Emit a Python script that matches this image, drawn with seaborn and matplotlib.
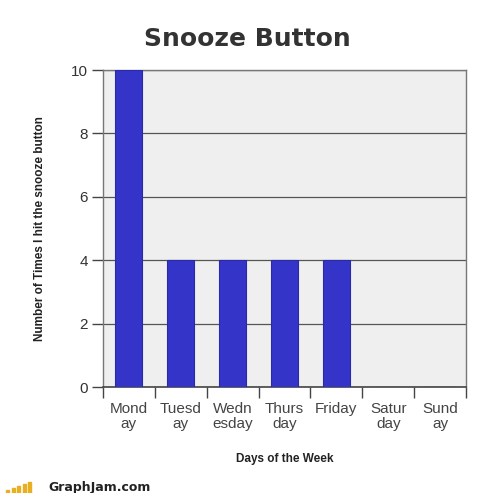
import matplotlib
matplotlib.use("Agg")
import pandas as pd
import seaborn as sns
import matplotlib.pyplot as plt
from matplotlib.patches import Rectangle

# Data
days = ["Mond\nay", "Tuesd\nay", "Wedn\nesday", "Thurs\nday", "Friday", "Satur\nday", "Sund\nay"]
snoozes = [10, 4, 4, 4, 4, 0, 0]

df = pd.DataFrame({"day": days, "snoozes": snoozes})

sns.set_theme(style="white")
plt.rcParams["font.family"] = ["Liberation Sans", "DejaVu Sans"]

fig = plt.figure(figsize=(5, 4.93), dpi=100)
ax = fig.add_axes([0.206, 0.215, 0.726, 0.643])
ax.set_facecolor("#efefef")

sns.barplot(data=df, x="day", y="snoozes", color="#3434c8", saturation=1,
            width=0.52, edgecolor="#2a2aa8", linewidth=0.8, ax=ax, zorder=3)

ax.set_ylim(0, 10)
ax.set_xlim(-0.5, len(days) - 0.5)
ax.set_yticks([0, 2, 4, 6, 8, 10])
ax.yaxis.grid(True, color="#555555", linewidth=0.9, zorder=0)
ax.set_axisbelow(True)

# category labels at centres, tick marks at boundaries
ax.set_xticks(range(len(days)))
ax.set_xticklabels(days, fontsize=11, color="#444444", linespacing=1.05)
ax.tick_params(axis="x", which="major", length=0, pad=11)
ax.set_xticks([i - 0.5 for i in range(len(days) + 1)], minor=True)
ax.tick_params(axis="x", which="minor", length=8, width=1, color="#444444", direction="out", bottom=True)
ax.tick_params(axis="y", length=8, width=1, color="#444444", direction="out", left=True,
               labelsize=11, labelcolor="#333333", pad=3)

for s in ax.spines.values():
    s.set_color("#777777")
    s.set_linewidth(1)
ax.spines["bottom"].set_color("#444444")
ax.spines["bottom"].set_linewidth(1.2)

ax.set_xlabel("Days of the Week", fontsize=8.5, fontweight="bold", color="#222222", labelpad=16)
ax.set_ylabel("Number of Times I hit the snooze button", fontsize=8.5, fontweight="bold",
              color="#222222", labelpad=18)

fig.text(0.495, 0.92, "Snooze Button", ha="center", va="center", fontsize=18,
         fontweight="bold", family="DejaVu Sans", color="#333333")

# watermark
for i, h in enumerate([3, 5, 7, 9, 11]):
    fig.patches.append(Rectangle((0.012 + i * 0.011, 0.0), 0.006, h / 493,
                                 transform=fig.transFigure, color="#e8b020", zorder=5))
fig.text(0.096, 0.012, "GraphJam.com", fontsize=9, fontweight="bold", color="#222222",
         family="DejaVu Sans", ha="left", va="center")

fig.savefig("out.png", dpi=100)
